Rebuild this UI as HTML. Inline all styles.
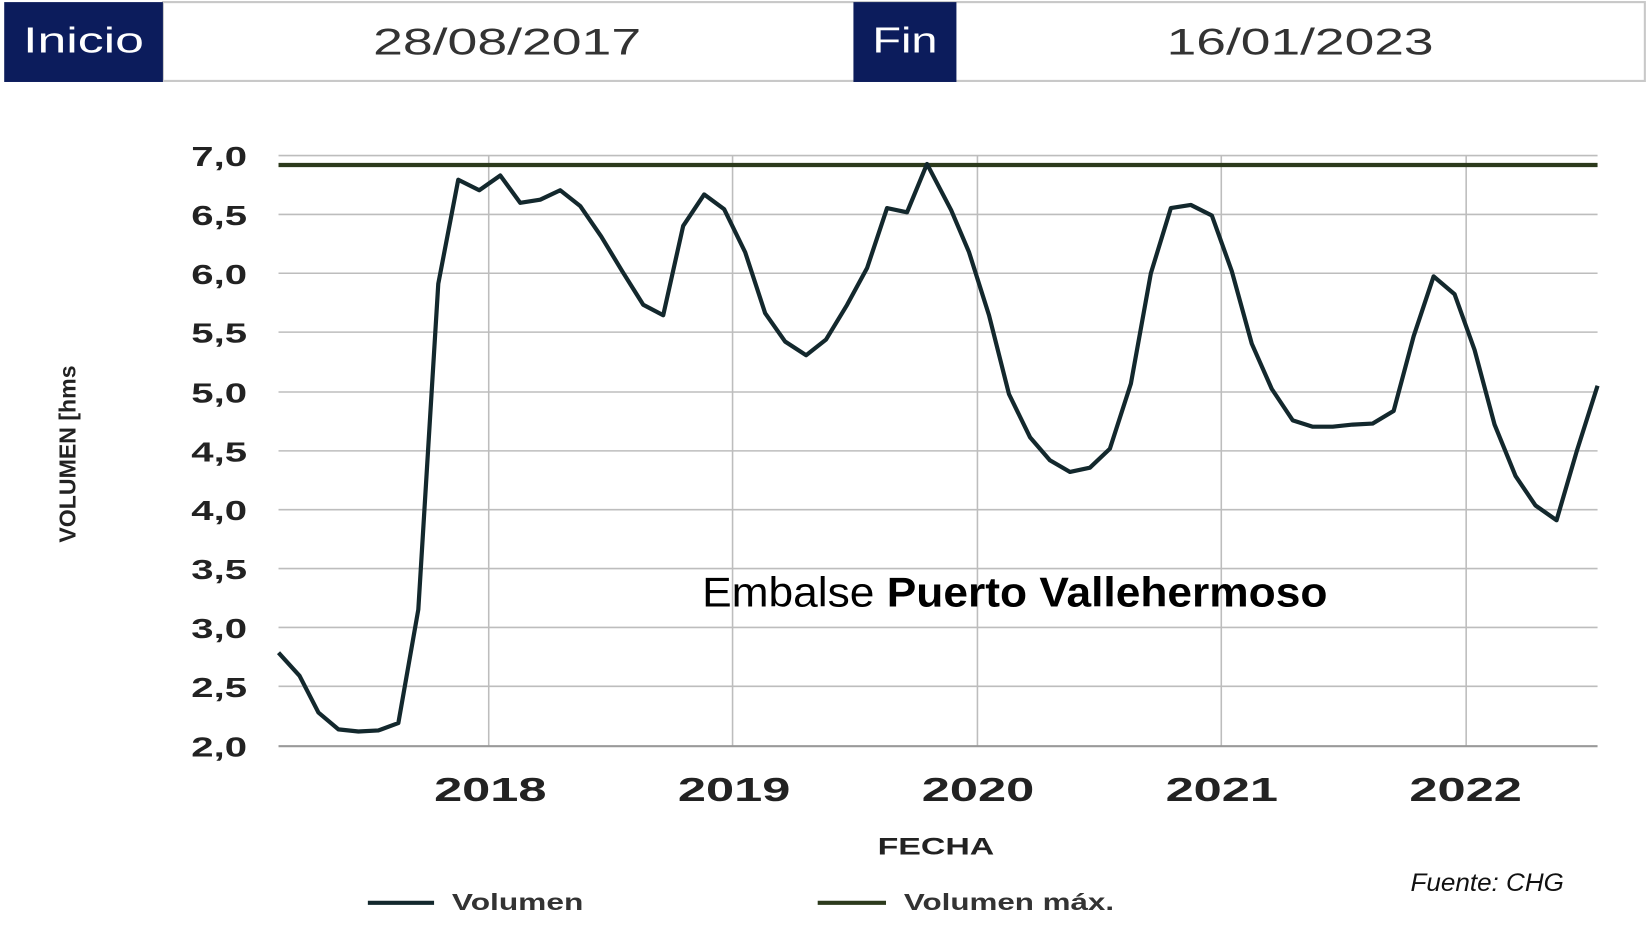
<!DOCTYPE html>
<html><head><meta charset="utf-8"><style>
html,body{margin:0;padding:0;background:#fff;}
svg{display:block;}
text{font-family:"Liberation Sans",sans-serif;}
</style></head><body>
<svg width="1648" height="938" viewBox="0 0 1568 892.5" preserveAspectRatio="none" xmlns="http://www.w3.org/2000/svg">
<rect x="0" y="0" width="1568" height="893" fill="#fff"/>
<rect x="155" y="2" width="1410" height="75" fill="#fff" stroke="#c8c8c8" stroke-width="2"/>
<rect x="4" y="2" width="151" height="76" fill="#0c1c5c"/>
<rect x="812" y="2" width="98" height="76" fill="#0c1c5c"/>
<text x="22" y="50" font-size="34" fill="#fff" textLength="115" lengthAdjust="spacingAndGlyphs">Inicio</text>
<text x="830" y="50" font-size="34" fill="#fff" textLength="62" lengthAdjust="spacingAndGlyphs">Fin</text>
<text x="355" y="52" font-size="35" fill="#333" textLength="255" lengthAdjust="spacingAndGlyphs">28/08/2017</text>
<text x="1110" y="52" font-size="35" fill="#333" textLength="254" lengthAdjust="spacingAndGlyphs">16/01/2023</text>
<g stroke="#bdbdbd" stroke-width="1.5">
<line x1="265" y1="148" x2="1520" y2="148"/>
<line x1="265" y1="204" x2="1520" y2="204"/>
<line x1="265" y1="260" x2="1520" y2="260"/>
<line x1="265" y1="316" x2="1520" y2="316"/>
<line x1="265" y1="373" x2="1520" y2="373"/>
<line x1="265" y1="429" x2="1520" y2="429"/>
<line x1="265" y1="485" x2="1520" y2="485"/>
<line x1="265" y1="541" x2="1520" y2="541"/>
<line x1="265" y1="597" x2="1520" y2="597"/>
<line x1="265" y1="653" x2="1520" y2="653"/>
<line x1="465" y1="148" x2="465" y2="710"/>
<line x1="697" y1="148" x2="697" y2="710"/>
<line x1="930" y1="148" x2="930" y2="710"/>
<line x1="1162" y1="148" x2="1162" y2="710"/>
<line x1="1395" y1="148" x2="1395" y2="710"/>
</g>
<line x1="265" y1="710" x2="1520" y2="710" stroke="#999" stroke-width="2"/>
<g font-size="26" fill="#222" font-weight="bold">
<text x="182" y="158" textLength="53" lengthAdjust="spacingAndGlyphs">7,0</text>
<text x="182" y="214" textLength="53" lengthAdjust="spacingAndGlyphs">6,5</text>
<text x="182" y="270" textLength="53" lengthAdjust="spacingAndGlyphs">6,0</text>
<text x="182" y="326" textLength="53" lengthAdjust="spacingAndGlyphs">5,5</text>
<text x="182" y="383" textLength="53" lengthAdjust="spacingAndGlyphs">5,0</text>
<text x="182" y="439" textLength="53" lengthAdjust="spacingAndGlyphs">4,5</text>
<text x="182" y="495" textLength="53" lengthAdjust="spacingAndGlyphs">4,0</text>
<text x="182" y="551" textLength="53" lengthAdjust="spacingAndGlyphs">3,5</text>
<text x="182" y="607" textLength="53" lengthAdjust="spacingAndGlyphs">3,0</text>
<text x="182" y="663" textLength="53" lengthAdjust="spacingAndGlyphs">2,5</text>
<text x="182" y="720" textLength="53" lengthAdjust="spacingAndGlyphs">2,0</text>
</g>
<g font-size="32" fill="#222" font-weight="bold">
<text x="413" y="762" textLength="107" lengthAdjust="spacingAndGlyphs">2018</text>
<text x="645" y="762" textLength="107" lengthAdjust="spacingAndGlyphs">2019</text>
<text x="877" y="762" textLength="107" lengthAdjust="spacingAndGlyphs">2020</text>
<text x="1109" y="762" textLength="107" lengthAdjust="spacingAndGlyphs">2021</text>
<text x="1341" y="762" textLength="107" lengthAdjust="spacingAndGlyphs">2022</text>
</g>
<text x="835" y="813" font-size="23" font-weight="bold" fill="#222" textLength="111" lengthAdjust="spacingAndGlyphs">FECHA</text>
<text transform="translate(72,432) rotate(-90)" font-size="22" font-weight="bold" fill="#222" text-anchor="middle">VOLUMEN [hms</text>
<line x1="265" y1="157" x2="1520" y2="157" stroke="#2c3a1c" stroke-width="4"/>
<polyline fill="none" stroke="#13282d" stroke-width="4" stroke-linejoin="round" points="265,621 285,643 303,678 322,694 341,696 360,695 379,688 398,580 417,270 436,171 456,181 476,167 495,193 514,190 533,181 552,196 572,225 592,258 612,290 631,300 650,215 670,185 689,199 709,240 728,298 747,325 767,338 786,323 806,290 825,255 844,198 863,202 882,156 905,200 922,240 941,300 960,375 980,416 999,438 1018,449 1037,445 1056,427 1076,365 1095,260 1114,198 1133,195 1153,205 1172,258 1191,327 1210,370 1230,400 1249,406 1268,406 1287,404 1306,403 1326,391 1345,320 1364,263 1384,280 1403,333 1422,404 1442,453 1461,481 1481,495 1500,430 1520,367"/>
<text x="668" y="577" font-size="40" fill="#000" textLength="595" lengthAdjust="spacingAndGlyphs">Embalse <tspan font-weight="bold">Puerto Vallehermoso</tspan></text>
<text x="1342" y="848" font-size="24" font-style="italic" fill="#111" textLength="146" lengthAdjust="spacingAndGlyphs">Fuente: CHG</text>
<line x1="350" y1="859" x2="413" y2="859" stroke="#13282d" stroke-width="4"/>
<text x="430" y="866" font-size="22" font-weight="bold" fill="#333" textLength="125" lengthAdjust="spacingAndGlyphs">Volumen</text>
<line x1="778" y1="859" x2="843" y2="859" stroke="#2c3a1c" stroke-width="4"/>
<text x="860" y="866" font-size="22" font-weight="bold" fill="#333" textLength="200" lengthAdjust="spacingAndGlyphs">Volumen máx.</text>
</svg>
</body></html>
